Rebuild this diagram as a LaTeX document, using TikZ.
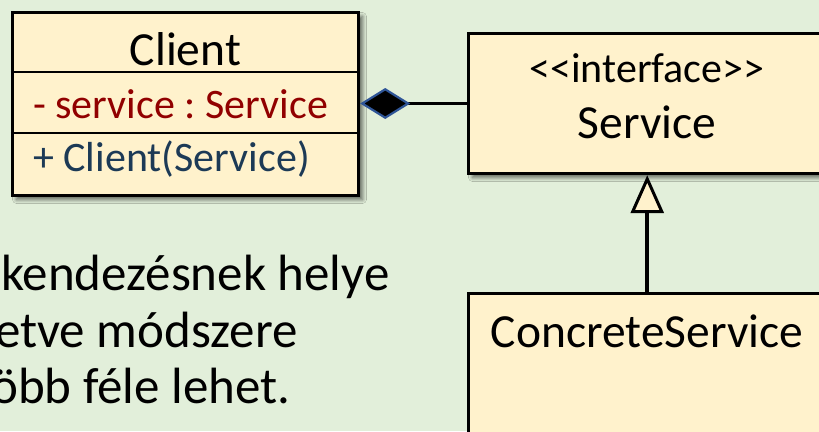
\documentclass[tikz,border=0pt]{standalone}
\usepackage{fontspec}
\setmainfont{Carlito}
\usetikzlibrary{arrows.meta,shadows.blur}

\definecolor{pagebg}{RGB}{226,239,218}
\definecolor{boxfill}{RGB}{255,242,204}
\definecolor{attrred}{RGB}{145,0,0}
\definecolor{opblue}{RGB}{28,58,86}
\definecolor{diamondblue}{RGB}{47,85,151}

\tikzset{
  umlbox/.style={draw=black, line width=3.4pt, fill=boxfill, inner sep=0pt,
    blur shadow={shadow xshift=4pt, shadow yshift=-4pt,
      shadow blur steps=8, shadow blur radius=4pt, shadow opacity=60}},
  title/.style={inner sep=0pt, anchor=base, font=\fontsize{47.5}{50}\selectfont},
  member/.style={inner sep=0pt, anchor=base west, font=\fontsize{42}{46}\selectfont},
  note/.style={inner sep=0pt, anchor=base west, font=\fontsize{51}{57}\selectfont},
  divider/.style={line width=2.6pt},
  link/.style={line width=3.6pt}
}

\begin{document}
\frenchspacing
\begin{tikzpicture}[x=1pt,y=-1pt]
  \fill[pagebg] (0,0) rectangle (819,431);
  \useasboundingbox (0,0) rectangle (819,431);

  % class boxes
  \node[umlbox, minimum width=346pt, minimum height=183pt] (client) at (185.5,104) {};
  \node[umlbox, minimum width=357.5pt, minimum height=140pt] (service) at (647.25,103.5) {};
  \node[umlbox, minimum width=357.5pt, minimum height=266.5pt] (concrete) at (647.25,426.75) {};

  % compartments of Client
  \coordinate (d1) at (0,72);
  \coordinate (d2) at (0,133);
  \draw[divider] (client.west |- d1) -- (client.east |- d1);
  \draw[divider] (client.west |- d2) -- (client.east |- d2);

  % texts
  \node[title] (clientname) at (185.5,65) {Client};
  \node[member, text=attrred] (attr) at (33,118) {- service : Service};
  \node[member, text=opblue] (op) at (33,171) {+ Client(Service)};

  \node[inner sep=0pt, anchor=base, font=\fontsize{42}{46}\selectfont] (stereo) at (647,82) {<{}<interface>{}>};
  \node[title] (servicename) at (647,138) {Service};
  \node[title] (concretename) at (647,347) {ConcreteService};

  \node[note] (l1) at (1,290) {kendezésnek helye};
  \node[note] (l2) at (-5,347) {etve módszere};
  \node[note] (l3) at (-9,403) {öbb féle lehet.};

  % composition
  \draw[link, {Diamond[length=50pt,width=31pt,fill=black,color=diamondblue,line width=2.2pt]}-]
    (client.east |- service.west) -- (service.west);

  % realization
  \draw[link, -{Triangle[length=38pt,width=33pt,fill=boxfill,line width=3pt]}]
    (concrete.north) -- (service.south);
\end{tikzpicture}
\end{document}
